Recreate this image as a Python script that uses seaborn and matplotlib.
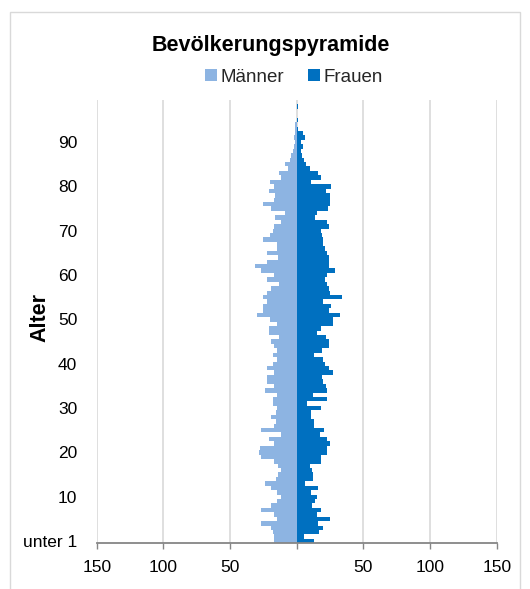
import numpy as np
import pandas as pd
import seaborn as sns
import matplotlib.pyplot as plt
from matplotlib.patches import Rectangle

# ages 0 ("unter 1") .. 99, counts per age
alter = list(range(100))
maenner = [17, 17, 18, 19, 27, 15, 17, 27, 19, 15,
           12, 15, 19, 24, 15.5, 14, 11.5, 14, 17, 27,
           28, 27.5, 17, 20.5, 12, 27, 17, 15.5, 19.5, 15.5,
           15, 18, 18, 15, 24, 17, 22.5, 22, 17, 22.5,
           18, 14.5, 18, 15, 17, 19, 13, 21, 21, 14.5,
           20, 29.5, 25.5, 25.5, 22.5, 25.5, 22, 19.5, 13, 22.5,
           17, 27, 31, 22.5, 14, 22, 14.5, 14.5, 25.5, 20,
           18, 17, 11.5, 16, 9, 19, 25, 17, 16.5, 21,
           17, 20, 12, 13, 6.5, 8.5, 5, 4, 3, 2,
           1.5, 2, 1, 1, 1, 0, 0, 0, 0, 0]
frauen = [13, 5.5, 17, 19.5, 16, 25, 15, 18, 11.5, 13.5,
          15.5, 10.5, 16, 6, 12.5, 12, 11.5, 10, 18.5, 18.5,
          22.5, 23, 25, 23, 17.5, 20.5, 13, 13, 11, 11,
          18, 8, 23, 12, 23, 22, 20, 19, 27, 24,
          21, 20, 13, 19, 24, 24, 22, 15, 18, 27,
          27, 32.5, 24, 26, 19.5, 34, 25, 24.5, 23, 21,
          22.5, 29, 24, 24, 24, 23, 21, 20, 20, 19,
          18.5, 24, 23, 14, 15.5, 23.5, 25, 25, 25, 22,
          26, 10.5, 18, 16, 10, 7, 5.5, 4, 3.5, 5,
          3, 6.5, 5, 1, 0.5, 1, 0.5, 0, 1, 0.5]

yticks = [0, 10, 20, 30, 40, 50, 60, 70, 80, 90]
ytick_labels = ["unter 1", "10", "20", "30", "40", "50", "60", "70", "80", "90"]
xticks = [-150, -100, -50, 0, 50, 100, 150]
xtick_labels = ["150", "100", "50", "", "50", "100", "150"]

farben = {"Männer": "#8DB4E2", "Frauen": "#0070C0"}

df = pd.DataFrame({
    "Alter": alter * 2,
    "Anzahl": [-m for m in maenner] + frauen,
    "Geschlecht": ["Männer"] * len(alter) + ["Frauen"] * len(alter),
})

sns.set_style("white")
plt.rcParams["font.family"] = ["Liberation Sans", "DejaVu Sans"]

fig = plt.figure(figsize=(5.3, 5.89), dpi=100)
ax = fig.add_axes([96.7 / 530, 1 - 543.3 / 589, 400 / 530, 443.3 / 589])

# outer chart border
fig.patches.append(Rectangle((10 / 530, -0.1), 510 / 530, 1.1 - 12 / 589,
                             transform=fig.transFigure, fill=False,
                             edgecolor="#d9d9d9", lw=1.0))

sns.barplot(data=df, x="Anzahl", y="Alter", hue="Geschlecht", orient="y",
            native_scale=True, dodge=False, width=1.0, saturation=1,
            palette=farben, errorbar=None, linewidth=0, ax=ax, zorder=2)

ax.set_xlim(-150, 150)
ax.set_ylim(-0.5, 99.5)
ax.set_xticks(xticks)
ax.set_xticklabels(xtick_labels, fontsize=12.5, color="black")
ax.set_yticks(yticks)
ax.set_yticklabels(ytick_labels, fontsize=12.5, color="black")
ax.xaxis.grid(True, color="#d9d9d9", lw=1.2, zorder=0)
ax.set_axisbelow(True)
ax.tick_params(axis="x", length=4, width=1, color="#868686", pad=8, direction="out", bottom=True)
ax.tick_params(axis="y", length=0, pad=14)
for s in ["top", "right", "left"]:
    ax.spines[s].set_visible(False)
ax.spines["bottom"].set_color("#868686")
ax.spines["bottom"].set_linewidth(1.3)
ax.set_xlabel("")
ax.set_ylabel("")

fig.text(40 / 530, 1 - 318 / 589, "Alter", rotation=90, fontsize=15.5,
         fontweight="bold", ha="center", va="center", color="black")
fig.text(271 / 530, 1 - 45 / 589, "Bevölkerungspyramide", fontsize=15.5,
         fontweight="bold", ha="center", va="center", color="black")

handles, labels = ax.get_legend_handles_labels()
ax.legend_.remove()
fig.legend(handles, labels, loc="center", bbox_to_anchor=(294 / 530, 1 - 77 / 589),
           ncol=2, frameon=False, fontsize=13.5, handlelength=0.6, handleheight=0.6,
           handletextpad=0.2, columnspacing=1.3, borderaxespad=0)

fig.savefig("out.png", dpi=100, facecolor="white")
